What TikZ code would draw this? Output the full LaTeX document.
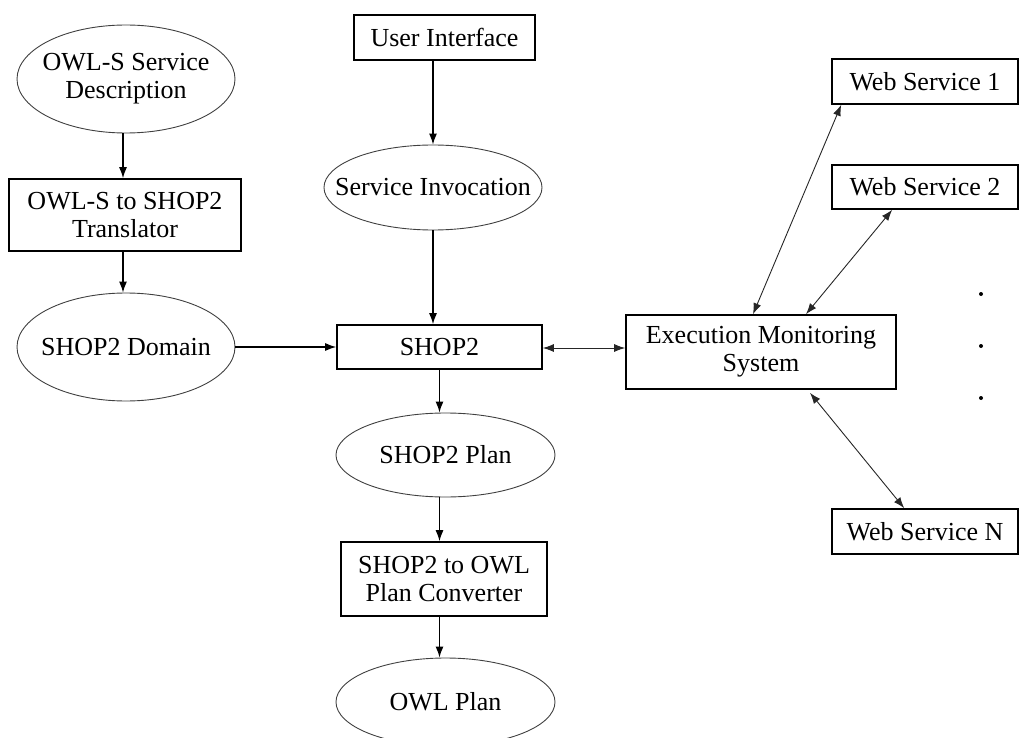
\documentclass[tikz,border=0pt]{standalone}
\usepackage{fontspec}
\setmainfont{Liberation Serif}
\usetikzlibrary{arrows.meta,shapes.geometric}

\begin{document}
\begin{tikzpicture}[x=1pt,y=-1pt,
  every node/.style={font=\fontsize{26}{28}\selectfont, inner sep=0pt, align=center},
  stepbox/.style={draw, rectangle, line width=1.6pt},
  oval/.style={draw, ellipse, line width=0.9pt, draw=black!75,
    label={[font=\fontsize{26}{28}\selectfont, align=center]center:#1}},
  flow/.style={line width=1.3pt, -{Latex[length=11pt,width=8pt]}},
  link/.style={line width=0.9pt, draw=black!85, {Latex[length=11pt,width=8pt]}-{Latex[length=11pt,width=8pt]}}
]
\useasboundingbox (0,0) rectangle (1020,738);

% left column: description and its translation
\node[oval={OWL-S Service\\Description}, minimum width=218pt, minimum height=108pt] (desc) at (126,79) {};
\node[stepbox, minimum width=232pt, minimum height=72pt] (trans) at (125,215) {OWL-S to SHOP2\\Translator};
\node[oval={SHOP2 Domain}, minimum width=218pt, minimum height=108pt] (domain) at (126,347) {};

% middle column: planner chain
\node[stepbox, minimum width=181pt, minimum height=45pt] (ui) at (444.5,37.5) {User Interface};
\node[oval={Service Invocation}, minimum width=218pt, minimum height=85pt] (inv) at (433,187.5) {};
\node[stepbox, minimum width=205pt, minimum height=44pt] (shop) at (439.5,347) {SHOP2};
\node[oval={SHOP2 Plan}, minimum width=219pt, minimum height=84pt] (plan) at (445.5,455) {};
\node[stepbox, minimum width=206pt, minimum height=74pt] (conv) at (444,579) {SHOP2 to OWL\\Plan Converter};
\node[oval={OWL Plan}, minimum width=219pt, minimum height=88pt] (owl) at (445.5,702) {};

% right column: monitoring and services
\node[stepbox, minimum width=270pt, minimum height=74pt] (ems) at (761,352) {Execution Monitoring\\System};
\node[stepbox, minimum width=186pt, minimum height=45pt] (ws1) at (925,81.5) {Web Service 1};
\node[stepbox, minimum width=186pt, minimum height=44pt] (ws2) at (925,187) {Web Service 2};
\node[stepbox, minimum width=186pt, minimum height=45pt] (wsn) at (925,531.5) {Web Service N};

\fill (981,294) circle (2pt);
\fill (981,346) circle (2pt);
\fill (981,398) circle (2pt);

% connectors
\draw[flow] ([xshift=-3pt]desc.south) -- ([xshift=-3pt]desc.south |- trans.north);
\draw[flow] ([xshift=-3pt]desc.south |- trans.south) -- ([xshift=-3pt]desc.south |- domain.north);
\draw[flow] (domain.east) -- (domain.east -| shop.west);
\draw[flow] (inv.north |- ui.south) -- (inv.north);
\draw[flow] (inv.south) -- (inv.south |- shop.north);
\draw[flow] (shop.south) -- (shop.south |- plan.north);
\draw[flow] (shop.south |- plan.south) -- (shop.south |- conv.north);
\draw[flow] (shop.south |- conv.south) -- (shop.south |- owl.north);
\draw[link] ([yshift=-1pt]shop.east) -- ([yshift=-1pt]shop.east -| ems.west);
\draw[link] ([xshift=-8pt]ems.north) -- ([xshift=10pt]ws1.south west);
\draw[link] ([xshift=45pt]ems.north) -- ([xshift=61pt]ws2.south west);
\draw[link] ([xshift=49pt,yshift=-3pt]ems.south) -- ([xshift=73pt]wsn.north west);
\end{tikzpicture}
\end{document}
